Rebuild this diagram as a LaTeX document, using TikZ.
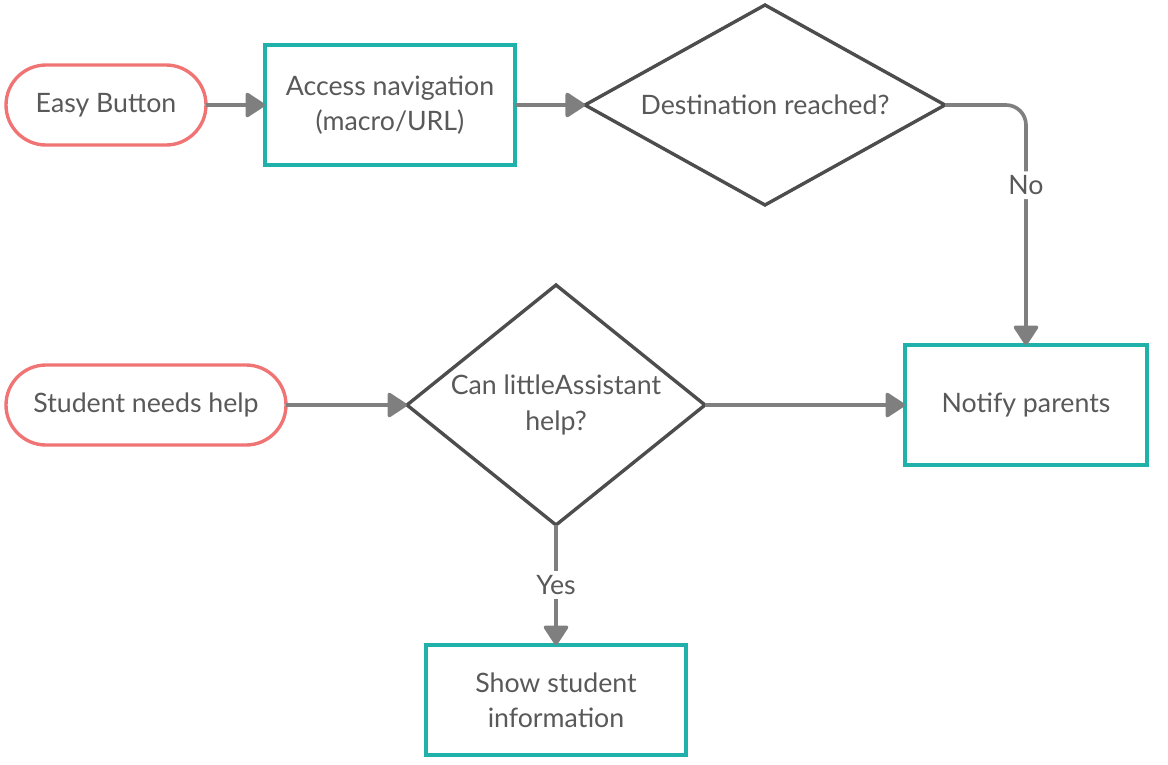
\documentclass[tikz,border=0pt]{standalone}
\usepackage{fontspec}
\setmainfont{Lato}
\usepackage{xcolor}
\definecolor{flowText}{HTML}{595959}
\definecolor{flowStart}{HTML}{F07474}
\definecolor{flowStep}{HTML}{20B2AA}
\definecolor{flowDecide}{HTML}{4D4D4D}
\definecolor{flowLine}{HTML}{7F7F7F}
\usetikzlibrary{shapes.geometric,arrows.meta,positioning}
\tikzset{
    startnode/.style={
        draw=flowStart,
        fill=white,
        rectangle,
        rounded corners=1cm,
        align=center,
        minimum height=2cm,
        line width=2.4pt,
        outer sep=0pt,
        text=flowText,
        font=\fontsize{19}{23}\selectfont
    },
    process/.style={
        draw=flowStep,
        fill=white,
        rectangle,
        align=center,
        minimum height=3cm,
        line width=2.4pt,
        outer sep=0pt,
        text=flowText,
        font=\fontsize{19}{25}\selectfont
    },
    decision/.style={
        draw=flowDecide,
        fill=white,
        diamond,
        inner sep=0pt,
        outer sep=0pt,
        align=center,
        line width=2.4pt,
        text=flowText,
        font=\fontsize{19}{25}\selectfont
    },
    arrow/.style={
        -{Triangle[length=15pt,width=19pt,round]},
        line width=2.6pt,
        color=flowLine
    },
    label/.style={
        font=\fontsize{19}{23}\selectfont,
        text=flowText,
        fill=white,
        inner sep=3pt
    }
}

\begin{document}
\begin{tikzpicture}
    \useasboundingbox (0,0) rectangle (29.2,-19.1);

    % Top row
    \node[startnode, minimum width=5cm] (easy) at (2.65,-2.625) {Easy Button};
    \node[process, minimum width=6.25cm, right=1.475cm of easy] (access) {Access navigation\\(macro/URL)};
    \node[decision, aspect=1.8, minimum width=9cm, minimum height=5cm, right=1.75cm of access] (dest) {Destination reached?};

    % Middle row
    \node[startnode, minimum width=7cm] (student) at (3.65,-10.125) {Student needs help};
    \node[decision, aspect=1.24, minimum width=7.45cm, minimum height=6cm, right=3.025cm of student] (can) {Can littleAssistant\\help?};
    \node[process, minimum width=6.05cm, right=5cm of can] (notify) {Notify parents};

    % Bottom
    \node[process, minimum width=6.5cm, minimum height=2.75cm, below=3cm of can] (show) {Show student\\information};

    % Arrows
    \draw[arrow] (easy) -- (access);
    \draw[arrow] (access) -- (dest);
    \draw[arrow, rounded corners=0.5cm] (dest.east) -| node[label, pos=0.667] {No} (notify.north);
    \draw[arrow] (student) -- (can);
    \draw[arrow] (can) -- (notify);
    \draw[arrow] (can) -- node[label] {Yes} (show);
\end{tikzpicture}
\end{document}
